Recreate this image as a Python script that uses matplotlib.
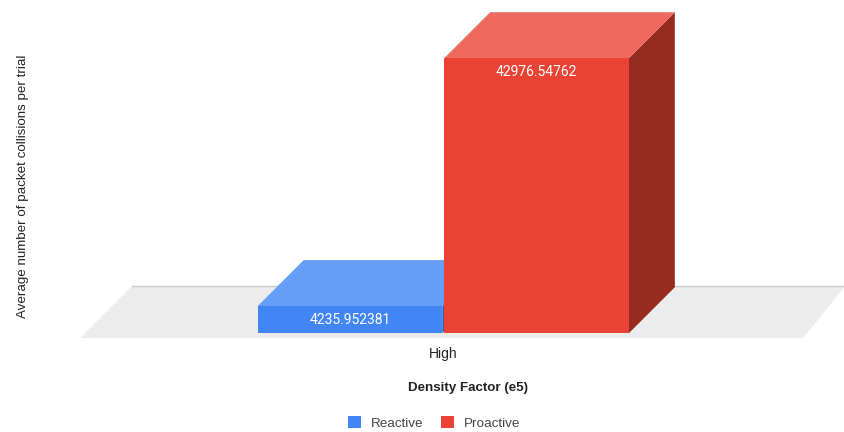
import matplotlib
matplotlib.use('Agg')
import matplotlib.pyplot as plt
from matplotlib.patches import Polygon, Patch

categories = ['High']
series_names = ['Reactive', 'Proactive']
series_values = [4235.952381, 42976.54762]
value_labels = ['4235.952381', '42976.54762']
xlabel = 'Density Factor (e5)'
ylabel = 'Average number of packet collisions per trial'

front_colors = ['#4285f4', '#ea4335']
top_colors = ['#669df6', '#ee6a5f']
side_colors = ['#2f5daa', '#962b20']
legend_colors = ['#4285f4', '#ea4335']

W, H = 845, 432
#pixels per category slot and data units per pixel
bar_px = 186.5
unit_px = 42976.54762 / 275.0
base_x, base_y = 444.2, 333.2
bar_width = 0.99
depth_x = 46.0 / bar_px
depth_y = 46.0 * unit_px

plt.rcParams['font.family'] = ['Liberation Sans', 'DejaVu Sans']

fig = plt.figure(figsize=(W / 100, H / 100), dpi=100)
ax = fig.add_axes([0, 0, 1, 1])
ax.set_xlim(-base_x / bar_px, (W - base_x) / bar_px)
ax.set_ylim((base_y - H) * unit_px, base_y * unit_px)
ax.axis('off')


def px(x, y):
    #offset in pixels from the base point to data coordinates
    return x / bar_px, -y * unit_px


#floor
floor = [px(-364.2, 5), px(358.8, 5), px(400.8, -47), px(-312.2, -47)]
ax.add_patch(Polygon(floor, closed=True, fc='#ececec', ec='none', zorder=1))
ax.plot([floor[3][0], floor[2][0]], [floor[3][1], floor[2][1]],
        color='#cccccc', lw=1.0, zorder=1.5)


def bar3d(x0, value, front, top, side, zorder):
    x1 = x0 + bar_width
    ax.add_patch(Polygon([(x1, 0), (x1 + depth_x, depth_y),
                          (x1 + depth_x, value + depth_y), (x1, value)],
                         closed=True, fc=side, ec='none', zorder=zorder))
    ax.add_patch(Polygon([(x0, value), (x1, value),
                          (x1 + depth_x, value + depth_y),
                          (x0 + depth_x, value + depth_y)],
                         closed=True, fc=top, ec='none', zorder=zorder))
    ax.add_patch(Polygon([(x0, 0), (x1, 0), (x1, value), (x0, value)],
                         closed=True, fc=front, ec='none', zorder=zorder + 0.1))


for i, val in enumerate(series_values):
    bar3d(i - 1, val, front_colors[i], top_colors[i], side_colors[i], 2 + i)
    ax.text(i - 1 + bar_width / 2, val - 14 * unit_px, value_labels[i],
            color='#ffffff', ha='center', va='center', fontsize=10,
            family='Roboto', zorder=5)

ax.text(-1.2 / bar_px, -25 * unit_px, categories[0], ha='center', va='baseline',
        fontsize=10, color='#222222')
fig.text(467.5 / W, 1 - 388 / H, xlabel, ha='center', va='center',
         fontsize=9.6, fontweight='bold', color='#222222')
fig.text(23.5 / W, 1 - 186 / H, ylabel, rotation=90, ha='center', va='center',
         fontsize=9.6, color='#222222')

handles = [Patch(fc=c, ec='none', label=n)
           for c, n in zip(legend_colors, series_names)]
fig.legend(handles=handles, loc='center', bbox_to_anchor=(434 / W, 1 - 423 / H),
           ncol=2, frameon=False, fontsize=9.7, labelcolor='#444444',
           handlelength=1.0, handleheight=1.0, handletextpad=0.7,
           columnspacing=1.3, borderpad=0)

fig.savefig('out.png', dpi=100, facecolor='white')
